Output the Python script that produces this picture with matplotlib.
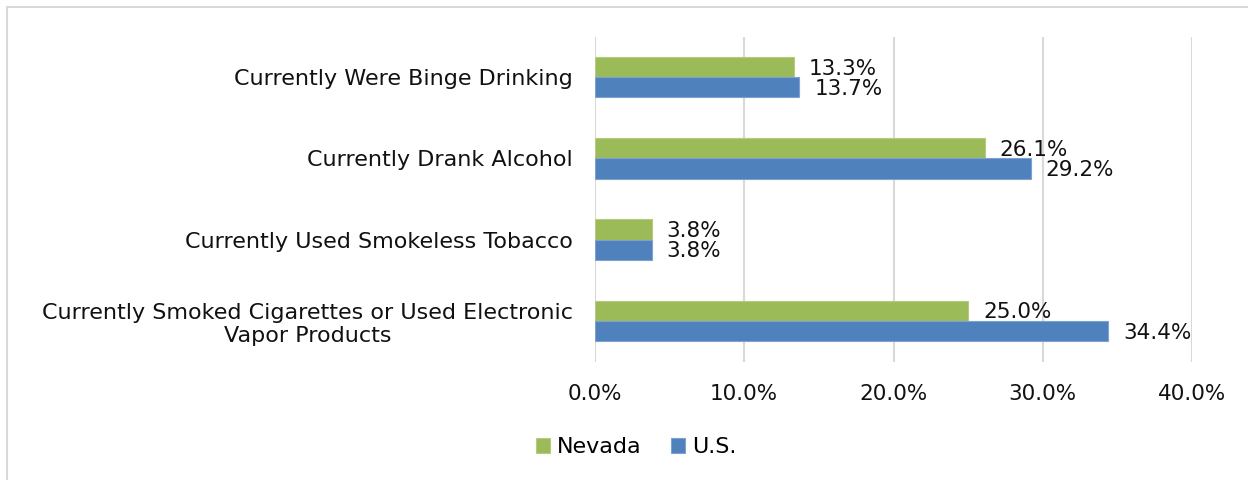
import matplotlib.pyplot as plt
from matplotlib.patches import Rectangle

# risk behaviour indicators, Nevada vs U.S.
categories = [
    "Currently Were Binge Drinking",
    "Currently Drank Alcohol",
    "Currently Used Smokeless Tobacco",
    "Currently Smoked Cigarettes or Used Electronic\nVapor Products",
]
nevada = [13.3, 26.1, 3.8, 25.0]
us = [13.7, 29.2, 3.8, 34.4]
xticks = [0, 10, 20, 30, 40]

GREEN = "#9BBB59"
BLUE = "#4F81BD"
GRID = "#D9D9D9"
TEXT = "#111111"

plt.rcParams["font.family"] = ["DejaVu Sans"]

fig = plt.figure(figsize=(12.48, 4.8), dpi=100)

# light frame around the chart area
fig.patches.append(Rectangle((7 / 1248, -0.1), 1.2, 1 - 7 / 480 + 0.1,
                             transform=fig.transFigure, fill=False,
                             edgecolor=GRID, linewidth=1.5))

ax = fig.add_axes([595 / 1248, 1 - 361.5 / 480, 597 / 1248, 325 / 480])

y = list(range(len(categories)))
h = 0.25
ax.barh([i - h / 2 for i in y], nevada, height=h, color=GREEN,
        edgecolor="#B5CC80", linewidth=0.8, label="Nevada")
ax.barh([i + h / 2 for i in y], us, height=h, color=BLUE,
        edgecolor="#7EA2D0", linewidth=0.8, label="U.S.")

for i in y:
    ax.text(nevada[i] + 1.0, i - h / 2 + 0.02, f"{nevada[i]:.1f}%",
            va="center", ha="left", fontsize=15.5, color=TEXT)
    ax.text(us[i] + 1.0, i + h / 2 + 0.02, f"{us[i]:.1f}%",
            va="center", ha="left", fontsize=15.5, color=TEXT)

ax.set_xlim(0, 40)
ax.set_ylim(len(categories) - 0.5, -0.5)
ax.set_xticks(xticks)
ax.set_xticklabels([f"{v:.1f}%" for v in xticks], fontsize=15.5)
ax.set_yticks(y)
ax.set_yticklabels(categories, fontsize=16, linespacing=1.2,
                   multialignment="center")
ax.tick_params(axis="both", length=0, colors=TEXT)
ax.tick_params(axis="x", pad=16)
ax.tick_params(axis="y", pad=16)

ax.grid(axis="x", color=GRID, linewidth=1.5)
ax.set_axisbelow(True)
for s in ax.spines.values():
    s.set_visible(False)

fig.legend(loc="center", bbox_to_anchor=(636 / 1248, 1 - 447 / 480),
           ncol=2, frameon=False, fontsize=16, handlelength=0.65,
           handleheight=0.65, handletextpad=0.3, columnspacing=1.3)

fig.savefig("out.png", dpi=100, facecolor="white")
